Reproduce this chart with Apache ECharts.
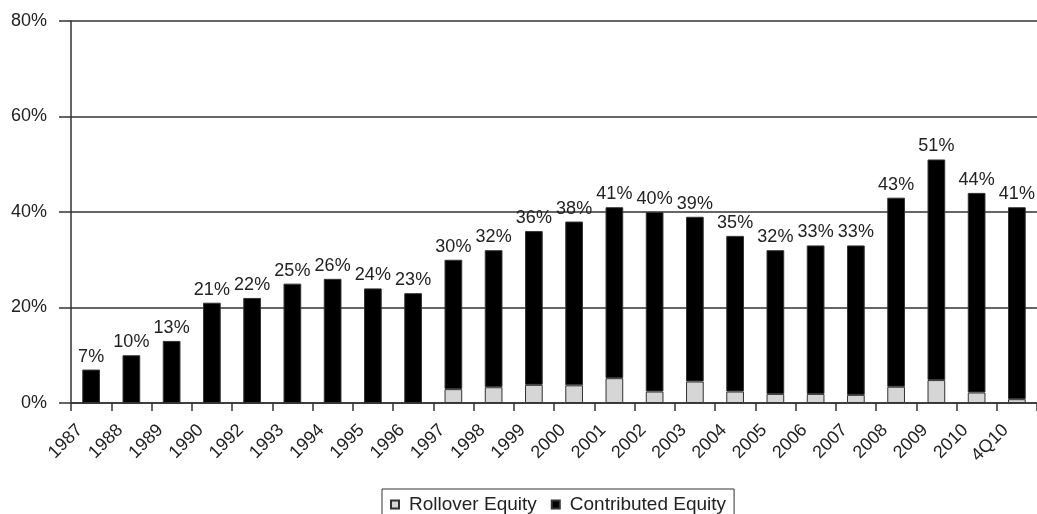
<!DOCTYPE html>
<html>
<head>
<meta charset="utf-8">
<script src="https://cdn.jsdelivr.net/npm/echarts@6/dist/echarts.min.js"></script>
<style>
html,body{margin:0;padding:0;background:#fff;overflow:hidden;}
#c{width:1037px;height:514px;}
</style>
</head>
<body>
<div id="c"></div>
<script>
const categories = ['1987','1988','1989','1990','1992','1993','1994','1995','1996','1997','1998','1999','2000','2001','2002','2003','2004','2005','2006','2007','2008','2009','2010','4Q10'];
const totalEquity = [7,10,13,21,22,25,26,24,23,30,32,36,38,41,40,39,35,32,33,33,43,51,44,41];
const rolloverEquity = [0,0,0,0,0,0,0,0,0,2.9,3.3,3.8,3.7,5.2,2.4,4.5,2.4,1.9,1.9,1.7,3.4,4.8,2.2,0.8];
const contributedEquity = totalEquity.map((t,i)=>+(t - rolloverEquity[i]).toFixed(2));
const yTicks = [0,20,40,60,80];

const chart = echarts.init(document.getElementById('c'));
const font = 'Liberation Sans, Arial, Helvetica, sans-serif';
chart.setOption({
  animation:false,
  backgroundColor:'#fff',
  grid:{left:71,right:-5,top:21,bottom:111,containLabel:false},
  legend:{
    top:489,left:382,
    data:['Rollover Equity','Contributed Equity'],
    itemWidth:8,itemHeight:8,itemGap:14,
    borderColor:'#333',borderWidth:1,padding:[6,8,8,8],
    textStyle:{fontFamily:font,fontSize:19,color:'#222',padding:[0,0,0,5]},
    icon:'rect'
  },
  xAxis:{
    type:'category',data:categories,
    axisLine:{lineStyle:{color:'#333',width:1.5}},
    axisTick:{show:true,alignWithLabel:false,length:8,lineStyle:{color:'#333',width:1.5}},
    axisLabel:{rotate:45,fontFamily:font,fontSize:18,color:'#222',margin:13,interval:0,padding:[0,16,0,0]}
  },
  yAxis:{
    type:'value',min:0,max:80,interval:20,
    axisLine:{show:true,lineStyle:{color:'#333',width:1.5}},
    axisTick:{show:true,length:12,lineStyle:{color:'#333',width:1.5}},
    splitLine:{lineStyle:{color:'#333',width:1.5}},
    axisLabel:{formatter:v=>yTicks.includes(v)?v+'%':'',fontFamily:font,fontSize:18,color:'#222',margin:24}
  },
  series:[
    {name:'Rollover Equity',type:'bar',stack:'eq',data:rolloverEquity,barWidth:'44%',
     itemStyle:{color:'#d6d6d6',borderColor:'#333',borderWidth:1}},
    {name:'Contributed Equity',type:'bar',stack:'eq',data:contributedEquity,barWidth:'44%',
     itemStyle:{color:'#000',borderColor:'#333',borderWidth:1},
     label:{show:true,position:'top',distance:4,fontFamily:font,fontSize:18,color:'#222',
       formatter:p=>totalEquity[p.dataIndex]+'%'}}
  ]
});
</script>
</body>
</html>
